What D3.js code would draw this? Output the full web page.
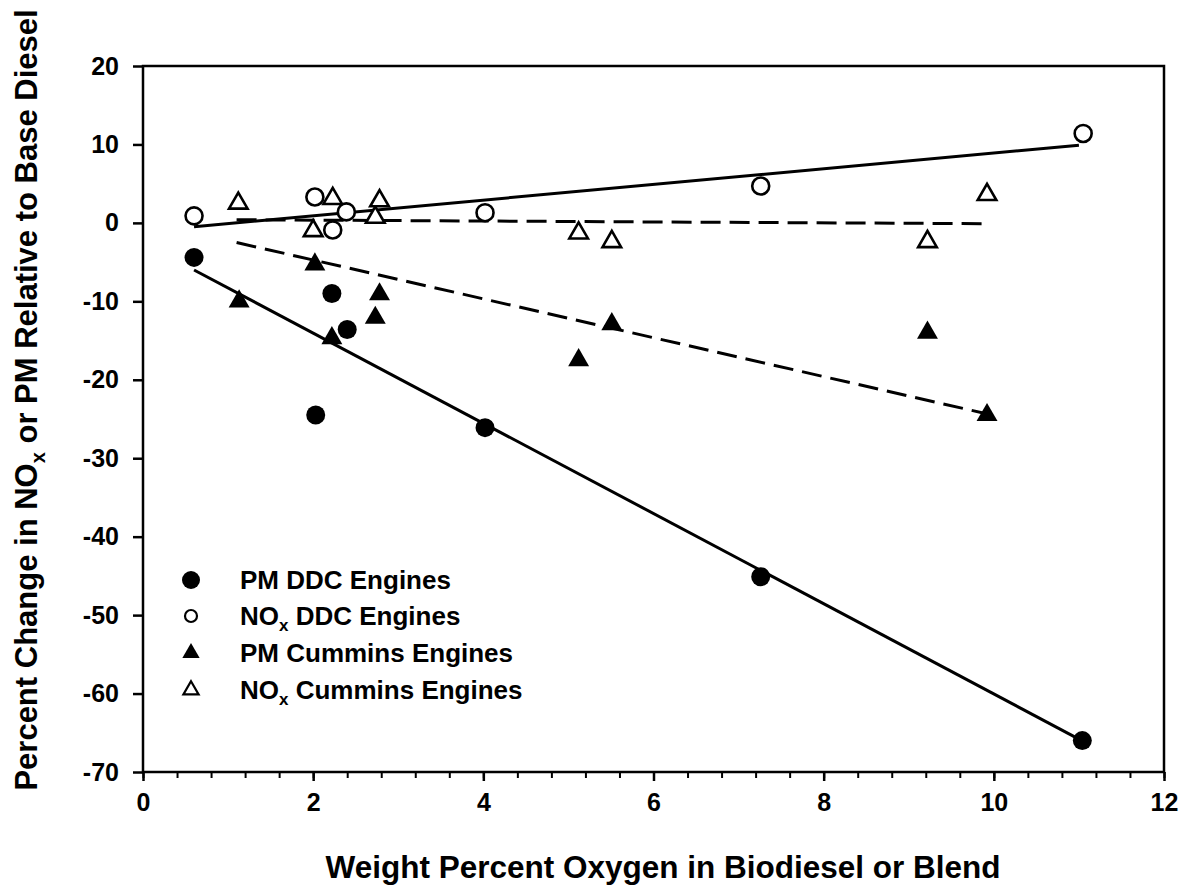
<!DOCTYPE html>
<html>
<head>
<meta charset="utf-8">
<script src="https://cdn.jsdelivr.net/npm/d3@7"></script>
<style>
body { margin: 0; background: #fff; }
text { font-family: "Liberation Sans", Arial, sans-serif; font-weight: bold; fill: #000; }
</style>
</head>
<body>
<svg width="1187" height="892"></svg>
<script>
// values
var pmDdcX = [0.6, 2.03, 2.22, 2.4, 4.02, 7.26, 11.04];
var pmDdcY = [-4.4, -24.5, -9.0, -13.6, -26.1, -45.1, -66.0];
var noxDdcX = [0.6, 2.02, 2.23, 2.39, 4.02, 7.26, 11.05];
var noxDdcY = [0.9, 3.3, -0.9, 1.4, 1.3, 4.7, 11.4];
var pmCumX = [1.13, 2.02, 2.22, 2.73, 2.78, 5.12, 5.51, 9.22, 9.92];
var pmCumY = [-10.0, -5.3, -14.7, -12.1, -9.1, -17.5, -12.9, -14.0, -24.5];
var noxCumX = [1.12, 2.0, 2.23, 2.73, 2.78, 5.12, 5.51, 9.22, 9.92];
var noxCumY = [2.5, -1.0, 3.1, 0.7, 2.8, -1.3, -2.4, -2.4, 3.6];

// fitted trend lines (end points)
var pmDdcFit = [[0.6, -6.0], [11.0, -65.8]];
var noxDdcFit = [[0.6, -0.5], [11.0, 9.9]];
var pmCumFit = [[1.1, -2.5], [9.9, -24.3]];
var noxCumFit = [[1.1, 0.4], [9.9, -0.1]];

var xTicks = [0, 2, 4, 6, 8, 10, 12];
var yTicks = [20, 10, 0, -10, -20, -30, -40, -50, -60, -70];
var legendNames = ["PM DDC Engines", "NOx DDC Engines", "PM Cummins Engines", "NOx Cummins Engines"];

var svg = d3.select("svg");
var pLeft = 143, pTop = 66, pRight = 1164, pBottom = 772;

var x = d3.scaleLinear().domain([0, 12]).range([pLeft, pRight]);
var y = d3.scaleLinear().domain([-70, 20]).range([pBottom, pTop]);

// frame
svg.append("rect")
  .attr("x", pLeft).attr("y", pTop)
  .attr("width", pRight - pLeft).attr("height", pBottom - pTop)
  .attr("fill", "none").attr("stroke", "#000").attr("stroke-width", 2.5);

// plain hyphen minus like the original
var fmt = function(d) { return String(d); };

// x axis with minor ticks
var xMinor = d3.range(0, 12.01, 0.4);
svg.append("g").attr("transform", "translate(0," + pBottom + ")")
  .call(d3.axisBottom(x).tickValues(xMinor).tickSize(6).tickFormat(""))
  .call(function(g) { g.select(".domain").remove(); g.selectAll("line").attr("stroke-width", 2); });
var xAxis = svg.append("g").attr("transform", "translate(0," + pBottom + ")")
  .call(d3.axisBottom(x).tickValues(xTicks).tickSize(9).tickPadding(12).tickFormat(fmt));
xAxis.select(".domain").remove();
xAxis.selectAll("line").attr("stroke-width", 2.5);
xAxis.selectAll("text").attr("font-size", 25).attr("font-family", null);

var yAxis = svg.append("g").attr("transform", "translate(" + pLeft + ",0)")
  .call(d3.axisLeft(y).tickValues(yTicks).tickSize(10).tickPadding(14).tickFormat(fmt));
yAxis.select(".domain").remove();
yAxis.selectAll("line").attr("stroke-width", 2.5);
yAxis.selectAll("text").attr("font-size", 25).attr("font-family", null);

// trend lines
var line = d3.line().x(function(d) { return x(d[0]); }).y(function(d) { return y(d[1]); });
function fitLine(pts, dash) {
  svg.append("path").datum(pts)
    .attr("d", line)
    .attr("fill", "none").attr("stroke", "#000").attr("stroke-width", 3)
    .attr("stroke-dasharray", dash);
}
fitLine(pmDdcFit, null);
fitLine(noxDdcFit, null);
fitLine(pmCumFit, "20,9");
fitLine(noxCumFit, "20,9");

var tri = d3.symbol().type(d3.symbolTriangle);

function points(xs, ys, kind, filled) {
  var data = xs.map(function(v, i) { return [v, ys[i]]; });
  var g = svg.append("g");
  if (kind == "circle") {
    g.selectAll("circle").data(data).enter().append("circle")
      .attr("cx", function(d) { return x(d[0]); })
      .attr("cy", function(d) { return y(d[1]); })
      .attr("r", filled ? 9.5 : 8.5)
      .attr("fill", filled ? "#000" : "#fff")
      .attr("stroke", "#000").attr("stroke-width", filled ? 0 : 2.6);
  } else {
    g.selectAll("path").data(data).enter().append("path")
      .attr("d", tri.size(filled ? 190 : 150))
      .attr("transform", function(d) { return "translate(" + x(d[0]) + "," + y(d[1]) + ")"; })
      .attr("fill", filled ? "#000" : "#fff")
      .attr("stroke", "#000").attr("stroke-width", filled ? 0 : 2.6)
      .attr("stroke-linejoin", "miter");
  }
}
points(noxCumX, noxCumY, "triangle", false);
points(noxDdcX, noxDdcY, "circle", false);
points(pmCumX, pmCumY, "triangle", true);
points(pmDdcX, pmDdcY, "circle", true);

// legend
var legY = [580, 616, 653, 690];
var leg = svg.append("g");
legendNames.forEach(function(name, i) {
  var cy = legY[i];
  if (i == 0) leg.append("circle").attr("cx", 191).attr("cy", cy).attr("r", 9).attr("fill", "#000");
  if (i == 1) leg.append("circle").attr("cx", 191).attr("cy", cy).attr("r", 6).attr("fill", "#fff").attr("stroke", "#000").attr("stroke-width", 2.2);
  if (i == 2) leg.append("path").attr("d", tri.size(130)).attr("transform", "translate(191," + cy + ")").attr("fill", "#000");
  if (i == 3) leg.append("path").attr("d", tri.size(100)).attr("transform", "translate(191," + cy + ")").attr("fill", "#fff").attr("stroke", "#000").attr("stroke-width", 2.2);
  var t = leg.append("text").attr("x", 240).attr("y", cy + 9).attr("font-size", 26);
  if (name.indexOf("NOx") == 0) {
    t.append("tspan").text("NO");
    t.append("tspan").attr("font-size", 17).attr("dy", 6).text("x");
    t.append("tspan").attr("dy", -6).text(name.slice(3));
  } else {
    t.text(name);
  }
});

// axis titles
svg.append("text")
  .attr("x", 663).attr("y", 878)
  .attr("text-anchor", "middle").attr("font-size", 31.5)
  .text("Weight Percent Oxygen in Biodiesel or Blend");

var yt = svg.append("text")
  .attr("transform", "translate(37,400) rotate(-90)")
  .attr("text-anchor", "middle").attr("font-size", 31);
yt.append("tspan").text("Percent Change in NO");
yt.append("tspan").attr("font-size", 20).attr("dy", 8).text("x");
yt.append("tspan").attr("dy", -8).text(" or PM Relative to Base Diesel");
</script>
</body>
</html>
